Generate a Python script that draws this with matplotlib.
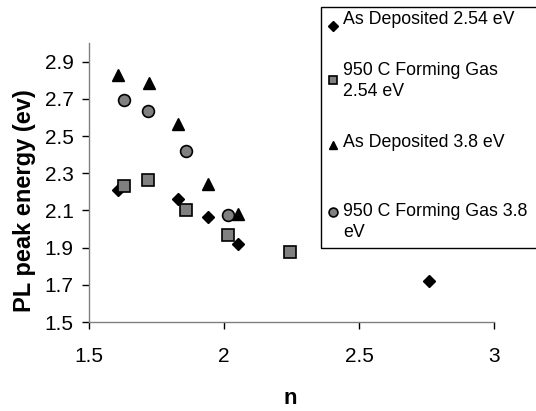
import matplotlib
matplotlib.use("Agg")
import matplotlib.pyplot as plt
from matplotlib.lines import Line2D
from matplotlib.patches import Rectangle

plt.rcParams['font.family'] = ['Liberation Sans', 'DejaVu Sans']

# Data
n_asdep_254 = [1.606, 1.828, 1.942, 2.053, 2.760]
e_asdep_254 = [2.212, 2.160, 2.065, 1.919, 1.719]

n_fg_254 = [1.631, 1.720, 1.858, 2.015, 2.246]
e_fg_254 = [2.231, 2.264, 2.101, 1.969, 1.874]

n_asdep_38 = [1.609, 1.723, 1.828, 1.942, 2.053]
e_asdep_38 = [2.827, 2.786, 2.562, 2.240, 2.080]

n_fg_38 = [1.628, 1.717, 1.858, 2.015]
e_fg_38 = [2.691, 2.637, 2.421, 2.076]

labels = ["As Deposited 2.54 eV", "950 C Forming Gas\n2.54 eV",
          "As Deposited 3.8 eV", "950 C Forming Gas 3.8\neV"]
xticks = [1.5, 2, 2.5, 3]
xticklabels = ["1.5", "2", "2.5", "3"]
yticks = [1.5, 1.7, 1.9, 2.1, 2.3, 2.5, 2.7, 2.9]
yticklabels = ["1.5", "1.7", "1.9", "2.1", "2.3", "2.5", "2.7", "2.9"]

W, H = 536, 411
fig = plt.figure(figsize=(W / 100, H / 100), dpi=100)
ax = fig.add_axes([89 / W, 1 - 322 / H, (494 - 89) / W, (322 - 43) / H])

styles = [
    dict(marker='D', ms=6.5, mfc='black', mec='black'),
    dict(marker='s', ms=8, mfc='#808080', mec='black', mew=1.2),
    dict(marker='^', ms=8.5, mfc='black', mec='black'),
    dict(marker='o', ms=8.5, mfc='#808080', mec='black', mew=1.2),
]
series = [(n_asdep_254, e_asdep_254), (n_fg_254, e_fg_254),
          (n_asdep_38, e_asdep_38), (n_fg_38, e_fg_38)]
for (xs, ys), st in zip(series, styles):
    ax.plot(xs, ys, ls='none', **st, clip_on=False)

ax.set_xlim(1.5, 3.0)
ax.set_ylim(1.5, 3.0)
ax.set_xticks(xticks)
ax.set_xticklabels(xticklabels)
ax.set_yticks(yticks)
ax.set_yticklabels(yticklabels)
for s in ['top', 'right']:
    ax.spines[s].set_visible(False)
for s in ['left', 'bottom']:
    ax.spines[s].set_color('#808080')
    ax.spines[s].set_linewidth(1.0)
ax.tick_params(axis='both', colors='black', labelsize=15, length=5, width=1.0)
ax.tick_params(axis='y', pad=6)
ax.tick_params(axis='x', pad=13)
for t in ax.get_xticklines() + ax.get_yticklines():
    t.set_color('#808080')

ax.set_xlabel('n', fontsize=16, fontweight='bold')
ax.xaxis.set_label_coords((290 - 89) / (494 - 89), -(398 - 322) / (322 - 43))
ax.set_ylabel('PL peak energy (ev)', fontsize=17, fontweight='bold')
ax.yaxis.set_label_coords(-(89 - 24) / (494 - 89), (322 - 201) / (322 - 43))
ax.xaxis.label.set_va('center')
ax.yaxis.label.set_va('center')

# Legend (drawn manually to match the layout)
fig.add_artist(Rectangle((321 / W, 1 - 248 / H), (W - 321 + 5) / W, (248 - 7) / H,
                         transform=fig.transFigure, fill=False, ec='black', lw=1.0,
                         clip_on=False))
marker_y = [26, 80, 145, 212]
text_y = [20, 81, 142, 222]
for st, lab, my, ty in zip(styles, labels, marker_y, text_y):
    st2 = dict(st)
    st2['ms'] = st['ms'] * 0.75
    fig.add_artist(Line2D([333 / W], [1 - my / H], ls='none', transform=fig.transFigure, **st2))
    fig.text(343 / W, 1 - ty / H, lab, fontsize=12.8, va='center', ha='left',
             linespacing=1.3)

fig.savefig('out.png', dpi=100)
